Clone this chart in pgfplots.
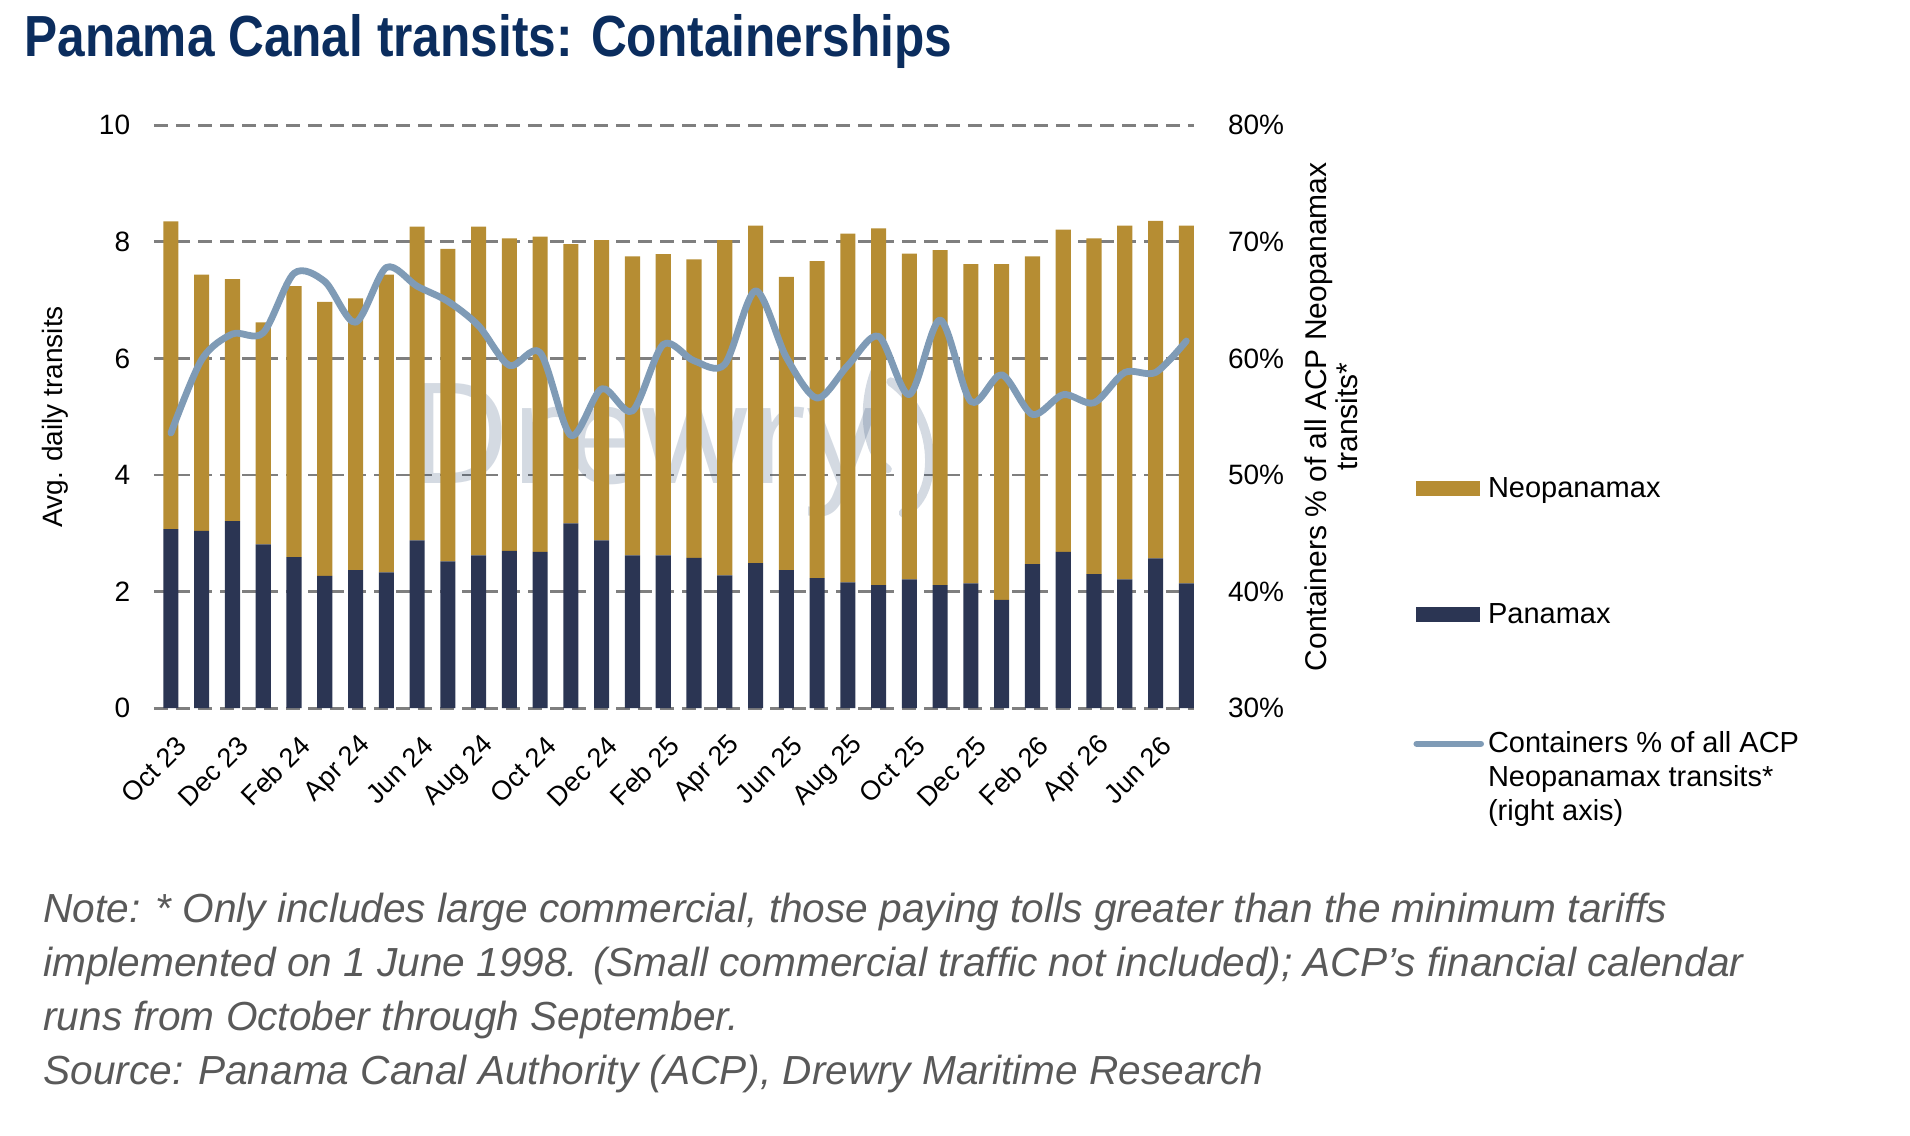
\documentclass[border=0pt]{standalone}
\usepackage{fontspec}
\setmainfont{Liberation Sans}
\newfontfamily\titlefont[FakeStretch=0.855]{Liberation Sans Bold}
\newfontfamily\wmfont{Open Sans}
\usepackage{pgfplots}
\pgfplotsset{compat=1.18}
\usepackage{pgfplotstable}

\definecolor{neo}{HTML}{B68D33}
\definecolor{pan}{HTML}{2B3553}
\definecolor{lineblue}{HTML}{7F9BB6}
\definecolor{titleblue}{HTML}{0B2D5E}
\definecolor{notegray}{HTML}{595959}
\definecolor{gridgray}{HTML}{7F7F7F}
\definecolor{wm}{HTML}{28466E}

\pgfplotstableread{
x pan neo pct
0 3.07 5.28 53.6
1 3.04 4.40 59.9
2 3.21 4.15 62.1
3 2.81 3.81 62.2
4 2.59 4.65 67.3
5 2.27 4.70 66.6
6 2.37 4.66 63.1
7 2.33 5.11 67.8
8 2.88 5.38 66.2
9 2.52 5.36 64.9
10 2.62 5.64 62.8
11 2.70 5.36 59.4
12 2.68 5.41 60.5
13 3.17 4.79 53.4
14 2.88 5.15 57.4
15 2.62 5.13 55.5
16 2.62 5.17 61.2
17 2.58 5.12 59.8
18 2.28 5.75 59.5
19 2.49 5.79 65.8
20 2.37 5.03 60.1
21 2.23 5.44 56.6
22 2.16 5.98 59.4
23 2.11 6.12 61.9
24 2.21 5.59 56.9
25 2.11 5.75 63.3
26 2.14 5.48 56.3
27 1.86 5.76 58.6
28 2.47 5.28 55.2
29 2.68 5.53 56.9
30 2.30 5.76 56.2
31 2.21 6.07 58.8
32 2.57 5.79 58.8
33 2.14 6.14 61.5
}\data

\pgfplotsset{
  common/.style={
    scale only axis,
    width=520pt, height=291.45pt,
    at={(77pt,213.4pt)}, anchor=south west,
    xmin=-0.55, xmax=33.25,
    axis line style={draw=none},
    major tick length=0pt,
    /pgf/number format/assume math mode=true,
    tick label style={font=\fontsize{14}{16}\selectfont},
    label style={font=\fontsize{14}{15.5}\selectfont},
  }
}

\begin{document}
\begin{tikzpicture}
\useasboundingbox (0,0) rectangle (955pt,567.5pt);

\begin{axis}[common,
  ybar stacked, bar width=0.49,
  ymin=0, ymax=10, ytick={0,2,...,10},
  ymajorgrids, grid style={gridgray, line width=1.4pt, dash pattern=on 7pt off 4pt},
  yticklabel style={xshift=-8.4pt},
  xtick={0,2,...,32},
  xticklabels={Oct 23,Dec 23,Feb 24,Apr 24,Jun 24,Aug 24,Oct 24,Dec 24,Feb 25,Apr 25,Jun 25,Aug 25,Oct 25,Dec 25,Feb 26,Apr 26,Jun 26},
  xticklabel style={font=\fontsize{13.5}{15}\selectfont, xshift=8pt, yshift=-14pt, rotate=45, anchor=east},
  ylabel={Avg. daily transits},
  ylabel style={at={(axis description cs:-0.095,0.5)}, anchor=center},
]
\addplot[fill=pan, draw=none] table[x=x, y=pan] {\data};
\addplot[fill=neo, draw=none] table[x=x, y=neo] {\data};
\node[font=\wmfont\fontsize{70}{70}\selectfont, text=wm, text opacity=0.2, anchor=base west, inner sep=0pt] at (axis cs:7.72,3.86) {Drewry};
\draw[wm, draw opacity=0.2, line width=4pt, line cap=round] (axis cs:23.0,5.94) .. controls (axis cs:22.4,5.3) and (axis cs:22.5,4.4) .. (axis cs:23.3,4.1);
\draw[wm, draw opacity=0.2, line width=4.5pt, line cap=round] (axis cs:23.4,5.6) .. controls (axis cs:25.0,5.0) and (axis cs:25.0,3.6) .. (axis cs:23.8,3.35);
\end{axis}

\begin{axis}[common,
  axis y line*=right, axis x line=none,
  ymin=30, ymax=80, ytick={30,40,...,80},
  yticklabel={\pgfmathprintnumber{\tick}\%},
  yticklabel style={xshift=13.5pt},
  ylabel={Containers \% of all ACP Neopanamax\\transits*},
  ylabel style={at={(axis description cs:1.132,0.5)}, anchor=center, align=center, font=\fontsize{15}{15.5}\selectfont},
  legend style={at={(axis description cs:1.2106,0.404)}, anchor=north west,
    draw=none, fill=none, inner sep=0pt, row sep=47.5pt, column sep=0pt,
    font=\fontsize{14.5}{17}\selectfont, cells={anchor=base west}},
]
\addlegendimage{legend image code/.code={\fill[neo] (0pt,1pt) rectangle (31.5pt,8pt);}}
\addlegendentry{Neopanamax}
\addlegendimage{legend image code/.code={\fill[pan] (0pt,1pt) rectangle (31.5pt,8pt);}}
\addlegendentry{Panamax\rule[-1.9pt]{0pt}{1pt}}
\addplot[lineblue, line width=3.4pt, smooth, tension=0.5, line join=round, line cap=round,
  legend image code/.code={\draw[lineblue, line width=3.3pt, line cap=round] (0pt,4.5pt) -- (32pt,4.5pt);}]
  table[x=x, y=pct] {\data};
\addlegendentry{\begin{tabular}[t]{@{}l@{}}Containers \% of all ACP\\Neopanamax transits*\\(right axis)\end{tabular}}
\end{axis}

\node[anchor=base west, inner sep=0pt, text=titleblue, font=\titlefont\fontsize{29}{32}\selectfont] at (12pt,539pt) {Panama Canal transits: Containerships};

\node[anchor=north west, inner sep=0pt, text=notegray, align=left, font=\itshape\fontsize{20.3}{27}\selectfont] at (21.5pt,121pt)
{Note: * Only includes large commercial, those paying tolls greater than the minimum tariffs\\
implemented on 1 June 1998. (Small commercial traffic not included); ACP's financial calendar\\
runs from October through September.\\
Source: Panama Canal Authority (ACP), Drewry Maritime Research};
\end{tikzpicture}
\end{document}
